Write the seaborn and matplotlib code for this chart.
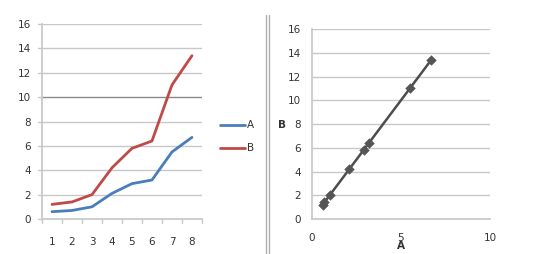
import matplotlib
matplotlib.use("Agg")
import matplotlib.pyplot as plt
import seaborn as sns
import pandas as pd
import numpy as np

categories = [1, 2, 3, 4, 5, 6, 7, 8]
series_a = [0.6, 0.7, 1.0, 2.1, 2.9, 3.2, 5.5, 6.7]
series_b = [1.2, 1.4, 2.0, 4.2, 5.8, 6.4, 11.0, 13.4]
y_ticks = [0, 2, 4, 6, 8, 10, 12, 14, 16]
x_ticks_right = [0, 5, 10]

sns.set_theme(style="white")
plt.rcParams['font.family'] = ['DejaVu Sans']

fig = plt.figure(figsize=(5.35, 2.54), dpi=100)
ax1 = fig.add_axes([0.0785, 0.1378, 0.299, 0.7677])
ax2 = fig.add_axes([0.583, 0.1378, 0.333, 0.748])

grid_c = "#c8c8c8"
tick_c = "#333333"

# Left chart
df = pd.DataFrame({"x": categories * 2,
                   "y": series_a + series_b,
                   "s": ["A"] * len(categories) + ["B"] * len(categories)})
for yv in y_ticks[1:]:
    ax1.axhline(yv, color="#8a8a8a" if yv == 10 else grid_c, lw=1.0, zorder=0)
sns.lineplot(data=df, x="x", y="y", hue="s", palette={"A": "#4a7ebb", "B": "#be4b48"},
             lw=2, ax=ax1, legend=False)
ax1.set_xlim(0.5, 8.5)
ax1.set_ylim(0, 16)
ax1.set_xticks(categories)
ax1.set_yticks(y_ticks)
ax1.set_xlabel("")
ax1.set_ylabel("")
ax1.tick_params(axis="y", length=0, labelsize=7.5, colors=tick_c, pad=8)
ax1.tick_params(axis="x", length=0, labelsize=7.5, colors=tick_c, pad=13)
for xm in np.arange(0.5, 9.0, 1.0):
    ax1.plot([xm, xm], [0, -0.3], color=grid_c, lw=1, clip_on=False)
for yv in y_ticks:
    ax1.plot([0.5, 0.3], [yv, yv], color=grid_c, lw=1, clip_on=False)
for sp in ["top", "right"]:
    ax1.spines[sp].set_visible(False)
ax1.spines["left"].set_color(grid_c)
ax1.spines["bottom"].set_color(grid_c)

# Legend
fig.lines.append(plt.Line2D([0.411, 0.458], [0.508, 0.508], color="#4a7ebb", lw=2, transform=fig.transFigure))
fig.lines.append(plt.Line2D([0.411, 0.458], [0.417, 0.417], color="#be4b48", lw=2, transform=fig.transFigure))
fig.text(0.462, 0.508, "A", fontsize=7.5, color=tick_c, va="center")
fig.text(0.462, 0.417, "B", fontsize=7.5, color=tick_c, va="center")

# separator
fig.lines.append(plt.Line2D([0.497, 0.497], [0.0, 0.94], color="#b0b0b0", lw=1, transform=fig.transFigure))
fig.lines.append(plt.Line2D([0.503, 0.503], [0.0, 0.94], color="#b0b0b0", lw=1, transform=fig.transFigure))

# Right chart
df2 = pd.DataFrame({"A": series_a, "B": series_b})
for yv in y_ticks[1:]:
    ax2.axhline(yv, color=grid_c, lw=1.0, zorder=0)
sns.lineplot(data=df2, x="A", y="B", color="#4d4d4d", lw=1.8, ax=ax2, sort=True)
sns.scatterplot(data=df2, x="A", y="B", color="#555555", marker="D", s=24, ax=ax2, zorder=3, edgecolor="#555555")
ax2.set_xlim(0, 10)
ax2.set_ylim(0, 16)
ax2.set_xticks(x_ticks_right)
ax2.set_yticks(y_ticks)
ax2.set_xlabel("A", fontsize=7.5, color=tick_c, fontweight="bold")
ax2.xaxis.set_label_coords(0.5, -0.118)
ax2.set_ylabel("B", fontsize=7.5, color=tick_c, rotation=0, fontweight="bold")
ax2.yaxis.set_label_coords(-0.17, 0.47)
ax2.tick_params(axis="both", length=3, width=1, color=grid_c, labelsize=7.5, colors=tick_c, direction="out")
ax2.tick_params(axis="x", pad=7)
ax2.tick_params(axis="y", pad=5)
for sp in ["top", "right"]:
    ax2.spines[sp].set_visible(False)
ax2.spines["left"].set_color(grid_c)
ax2.spines["bottom"].set_color(grid_c)

fig.savefig("out.png", dpi=100, facecolor="white")
